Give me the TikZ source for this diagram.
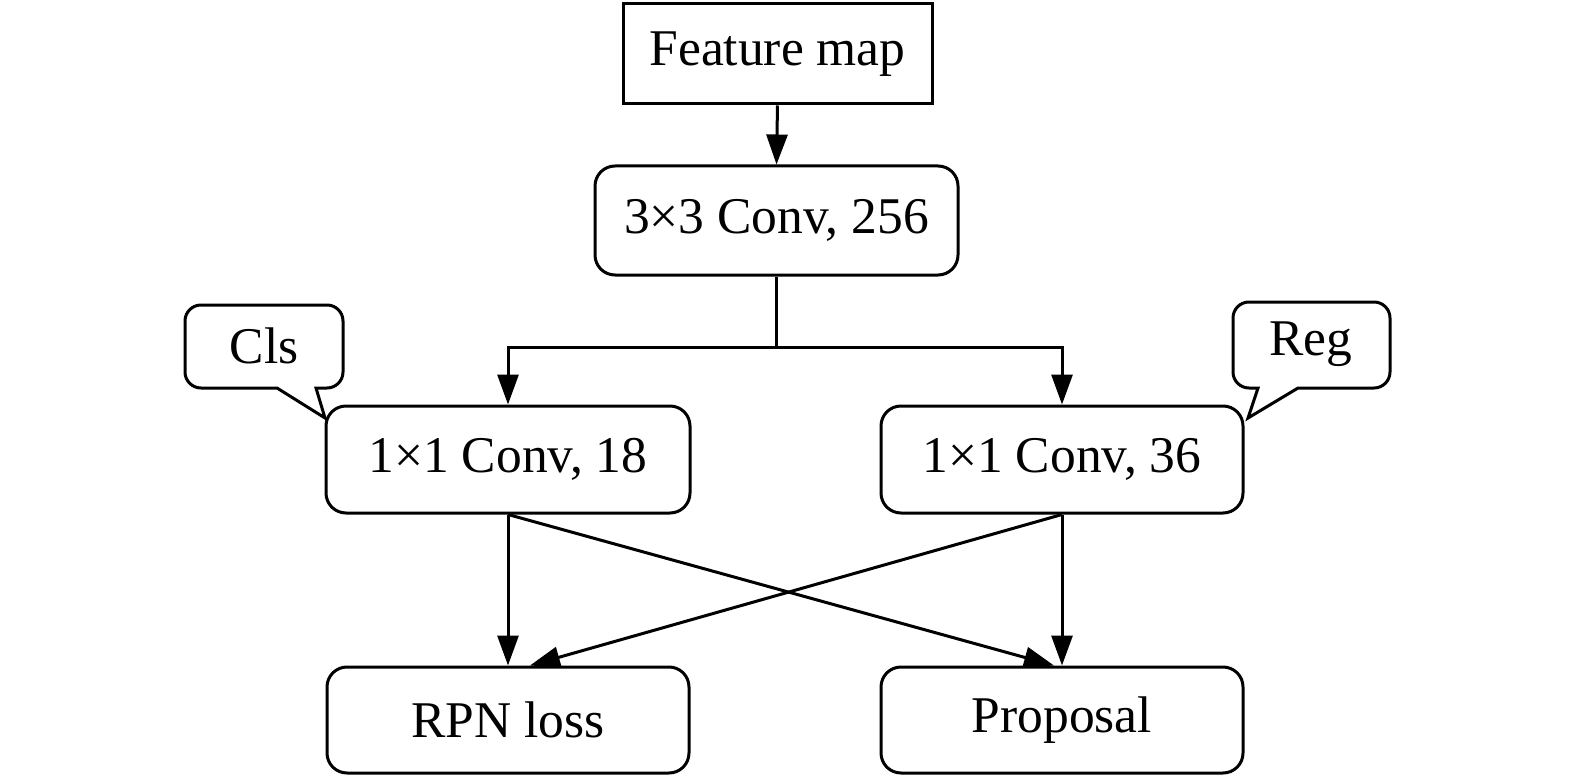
\documentclass[tikz,border=0pt]{standalone}
\usepackage{fontspec}
\setmainfont{Liberation Serif}
\usetikzlibrary{arrows.meta}

\tikzset{
  box/.style={draw, line width=3pt, rounded corners=20pt, inner sep=0pt},
  arr/.style={line width=3pt, -{Triangle[length=30pt,width=21pt]}},
  link/.style={line width=3pt},
}

\begin{document}
\begin{tikzpicture}[x=1pt, y=-1pt, font=\fontsize{51.5}{60}\selectfont]
  \useasboundingbox (0,0) rectangle (1575,781);
  % feature map
  \node[box, rounded corners=0pt, minimum width=309pt, minimum height=100pt] (fmap) at (777.5,54) {Feature map};
  % 3x3 conv
  \node[box, minimum width=363pt, minimum height=109pt] (conv) at (776.5,220.5) {3×3 Conv, 256};
  % 1x1 convs
  \node[box, minimum width=364pt, minimum height=107pt] (clsconv) at (508,459.5) {1×1 Conv, 18};
  \node[box, minimum width=362pt, minimum height=107pt] (regconv) at (1062,459.5) {1×1 Conv, 36};
  % outputs
  \node[box, minimum width=362pt, minimum height=106pt] (loss) at (508,720) {RPN loss};
  \node[box, minimum width=362pt, minimum height=106pt] (prop) at (1062,720) {Proposal};
  % callout texts
  \node (clstext) at (264,346) {Cls};
  \node (regtext) at (1311,344) {Reg};

  % connectors
  \draw[arr] (fmap.south) -- (conv.north);
  \draw[link] (conv.south) -- ++(0,71) coordinate (split);
  \draw[arr] (split) -| (clsconv.north);
  \draw[arr] (split) -| (regconv.north);
  \draw[arr] (clsconv.south) -- (loss.north);
  \draw[arr] (regconv.south) -- (prop.north);
  \draw[arr] (clsconv.south) -- ([xshift=-8pt]prop.north);
  \draw[arr] (regconv.south) -- ([xshift=22pt]loss.north);

  % Cls callout
  \coordinate (clstip) at (325,418);
  \draw[line width=3pt, line join=miter]
    (277,388) [rounded corners=16pt] -- (185,388) -- (185,305) -- (343,305) -- (343,388)
    [sharp corners] -- (316,388) -- (clstip) -- cycle;
  % Reg callout
  \coordinate (regtip) at (1248,418);
  \draw[line width=3pt, line join=miter]
    (1298,388) [rounded corners=16pt] -- (1390,388) -- (1390,302) -- (1233,302) -- (1233,388)
    [sharp corners] -- (1258,388) -- (regtip) -- cycle;
\end{tikzpicture}
\end{document}
